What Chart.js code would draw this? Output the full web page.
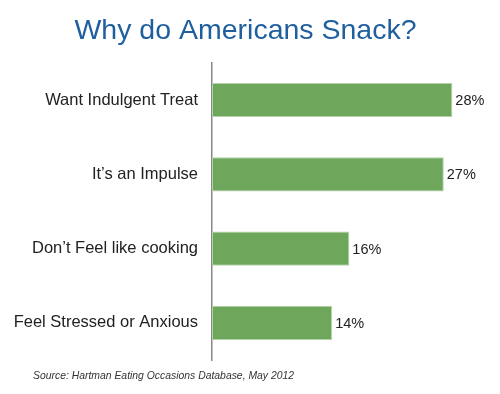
<!DOCTYPE html>
<html>
<head>
<meta charset="utf-8">
<script src="https://cdn.jsdelivr.net/npm/chart.js@4"></script>
<style>
  html, body { margin: 0; padding: 0; background: #fff; }
  #wrap { width: 500px; height: 394px; }
</style>
</head>
<body>
<div id="wrap"><canvas id="snackChart" width="500" height="394"></canvas></div>
<script>
const REASONS = ['Want Indulgent Treat', 'It\u2019s an Impulse', 'Don\u2019t Feel like cooking', 'Feel Stressed or Anxious'];
const SHARES = [28, 27, 16, 14];
const TITLE = 'Why do Americans Snack?';
const SOURCE = 'Source: Hartman Eating Occasions Database, May 2012';

const FONT = '"Liberation Sans", Arial, Helvetica, sans-serif';

// valeurs au bout des barres + source en bas
const labelsPlugin = {
    id: 'labelsPlugin',
    afterDatasetsDraw(chart) {
        const ctx = chart.ctx;
        const meta = chart.getDatasetMeta(0);
        ctx.save();
        ctx.fillStyle = '#222';
        ctx.font = '14.5px ' + FONT;
        ctx.textAlign = 'left';
        ctx.textBaseline = 'middle';
        meta.data.forEach((bar, i) => {
            ctx.fillText(SHARES[i] + '%', bar.x + 3, bar.y + 1);
        });

        ctx.fillStyle = '#333';
        ctx.font = 'italic 10.4px ' + FONT;
        ctx.textBaseline = 'middle';
        ctx.fillText(SOURCE, 33, 376);
        ctx.restore();
    }
};

new Chart(document.getElementById('snackChart'), {
    type: 'bar',
    data: {
        labels: REASONS,
        datasets: [{
            data: SHARES,
            backgroundColor: '#6ea75c',
            borderColor: '#b4d2a6',
            borderWidth: 1,
            borderSkipped: false,
            categoryPercentage: 1,
            barPercentage: 0.46
        }]
    },
    options: {
        indexAxis: 'y',
        responsive: false,
        animation: false,
        layout: { padding: { top: 0, right: 9, bottom: 34, left: 0 } },
        scales: {
            x: {
                display: false,
                min: 0,
                max: 32.5   // axe invisible, laisse le titre centré comme l'original
            },
            y: {
                afterFit(scale) { scale.width = 212; },
                grid: { display: false, drawTicks: false },
                border: { display: true, color: '#888', width: 1.5 },
                ticks: {
                    padding: 14,
                    color: '#222',
                    font: { family: FONT, size: 16.5 }
                }
            }
        },
        plugins: {
            legend: { display: false },
            tooltip: { enabled: false },
            title: {
                display: true,
                text: TITLE,
                color: '#1f5f9f',
                font: { family: FONT, size: 28.5, weight: 'normal', lineHeight: 1.2 },
                padding: { top: 13.7, bottom: 15 }
            }
        }
    },
    plugins: [labelsPlugin]
});
</script>
</body>
</html>
